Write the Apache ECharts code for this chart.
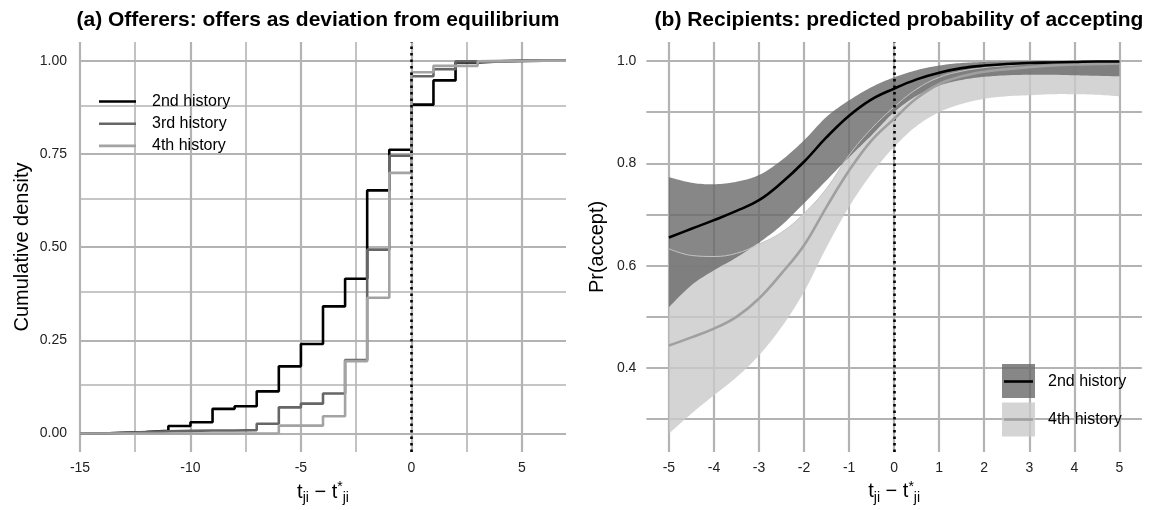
<!DOCTYPE html>
<html><head><meta charset="utf-8">
<script src="https://cdn.jsdelivr.net/npm/echarts@6/dist/echarts.min.js"></script>
<style>html,body{margin:0;padding:0;background:#fff}#c{width:1149px;height:510px}</style>
</head><body><div id="c"></div>
<script>
// ---------- Panel (a): empirical CDFs ----------
const ecdfX   = [-15,-14,-13,-12,-11,-10,-9,-8,-7,-6,-5,-4,-3,-2,-1,0,1,2,3,4,5,6,7];
const ecdf2nd = [0,0.002,0.004,0.007,0.02,0.03,0.066,0.073,0.113,0.18,0.24,0.341,0.415,0.652,0.761,0.882,0.947,0.995,0.998,0.999,1,1,1];
const ecdf3rd = [0,0.002,0.004,0.006,0.007,0.008,0.008,0.009,0.026,0.07,0.08,0.107,0.197,0.493,0.745,0.958,0.977,0.998,0.999,1,1,1,1];
const ecdf4th = [0,0,0,0,0,0,0,0,0,0.021,0.021,0.046,0.194,0.364,0.699,0.969,0.986,0.986,0.998,0.999,1,1,1];
const leftXTicks  = [-15,-10,-5,0,5];
const leftXMinor  = [-12.5,-7.5,-2.5,2.5];
const leftYTicks  = [0,0.25,0.5,0.75,1];
const leftYMinor  = [0.125,0.375,0.625,0.875];

// ---------- Panel (b): predicted probability with bands ----------
const predX   = [-5,-4.5,-4,-3.5,-3,-2.5,-2,-1.5,-1,-0.5,0,0.5,1,1.5,2,2.5,3,3.5,4,4.5,5];
const pred2nd = [0.655,0.672,0.689,0.707,0.728,0.762,0.803,0.851,0.893,0.925,0.946,0.964,0.977,0.986,0.991,0.994,0.996,0.997,0.998,0.999,0.999];
const hi2nd   = [0.773,0.762,0.759,0.764,0.777,0.806,0.845,0.891,0.923,0.949,0.968,0.982,0.991,0.996,0.998,0.999,1,1,1,1,1];
const lo2nd   = [0.519,0.562,0.591,0.616,0.645,0.679,0.722,0.767,0.812,0.855,0.9,0.932,0.952,0.963,0.969,0.972,0.973,0.973,0.972,0.971,0.97];
const pred4th = [0.444,0.46,0.477,0.5,0.536,0.585,0.64,0.715,0.786,0.845,0.887,0.927,0.955,0.97,0.979,0.984,0.988,0.991,0.993,0.994,0.995];
const hi4th   = [0.633,0.62,0.618,0.624,0.642,0.665,0.702,0.751,0.816,0.868,0.91,0.945,0.968,0.98,0.987,0.991,0.994,0.995,0.996,0.996,0.996];
const lo4th   = [0.272,0.311,0.347,0.382,0.425,0.48,0.549,0.636,0.715,0.78,0.832,0.873,0.9,0.916,0.926,0.931,0.933,0.935,0.935,0.934,0.931];
const rightXTicks = [-5,-4,-3,-2,-1,0,1,2,3,4,5];
const rightYTicks = [0.4,0.6,0.8,1.0];
const rightYMinor = [0.3,0.5,0.7,0.9];
const equilibrium = 0;

const FONT = '"Liberation Sans", Arial, Helvetica, sans-serif';
const GRIDC = '#b3b3b3';
const BAND2 = 'rgba(105,105,105,0.8)';
const BAND4 = 'rgba(201,201,201,0.8)';
const pairs = (xs, ys) => xs.map((x, i) => [x, ys[i]]);

function gridSeries(xi, yi, xMaj, xMin, yMaj, yMin, anchor, minorW) {
  const d = [];
  xMaj.forEach(v => d.push({xAxis: v, lineStyle: {width: 2.2}}));
  xMin.forEach(v => d.push({xAxis: v, lineStyle: {width: minorW}}));
  yMaj.forEach(v => d.push({yAxis: v, lineStyle: {width: 2.2}}));
  yMin.forEach(v => d.push({yAxis: v, lineStyle: {width: minorW}}));
  return {
    type: 'line', xAxisIndex: xi, yAxisIndex: yi, data: [anchor], symbol: 'none',
    lineStyle: {opacity: 0}, silent: true, z: 0,
    markLine: {silent: true, symbol: ['none', 'none'], label: {show: false}, z: 0,
      lineStyle: {color: GRIDC, type: 'solid'}, emphasis: {disabled: true}, animation: false, data: d}
  };
}
function dotted(xi, yi, anchor) {
  return {
    type: 'line', xAxisIndex: xi, yAxisIndex: yi, data: [anchor], symbol: 'none',
    lineStyle: {opacity: 0}, silent: true, z: 6,
    markLine: {silent: true, symbol: ['none', 'none'], label: {show: false}, z: 6,
      lineStyle: {color: '#000', type: [2.5, 4], width: 2.6}, emphasis: {disabled: true}, animation: false,
      data: [{xAxis: equilibrium}]}
  };
}
// Catmull-Rom smoothing of pixel points (rendering only)
function catmull(pts, n) {
  const out = [];
  for (let i = 0; i < pts.length - 1; i++) {
    const p0 = pts[Math.max(i - 1, 0)], p1 = pts[i], p2 = pts[i + 1], p3 = pts[Math.min(i + 2, pts.length - 1)];
    for (let k = 0; k < n; k++) {
      const t = k / n, t2 = t * t, t3 = t2 * t;
      const f = (a, b, c, d) => 0.5 * (2 * b + (-a + c) * t + (2 * a - 5 * b + 4 * c - d) * t2 + (-a + 3 * b - 3 * c + d) * t3);
      out.push([f(p0[0], p1[0], p2[0], p3[0]), f(p0[1], p1[1], p2[1], p3[1])]);
    }
  }
  out.push(pts[pts.length - 1]);
  return out;
}
function bandSeries(name, lo, hi, color, z) {
  return {
    name, type: 'custom', coordinateSystem: 'cartesian2d', xAxisIndex: 1, yAxisIndex: 1, z, silent: true,
    data: [[predX[0], lo[0]]],
    renderItem: (params, api) => {
      const up = predX.map((x, i) => api.coord([x, hi[i]]));
      const dn = predX.map((x, i) => api.coord([x, lo[i]])).reverse();
      const pts = catmull(up, 10).concat(catmull(dn, 10));
      return {type: 'polygon', shape: {points: pts}, style: {fill: color, stroke: null}};
    }
  };
}

const xName = '{t|t}{s|ji}{t| − t}{p|*}{s|ji}';
const xNameStyle = {
  fontFamily: FONT, color: '#000',
  rich: {
    t: {fontSize: 20, fontFamily: FONT, color: '#000'},
    s: {fontSize: 14, fontFamily: FONT, color: '#000', padding: [12, 0, 0, 0]},
    p: {fontSize: 14, fontFamily: FONT, color: '#000', padding: [0, 0, 10, 0]}
  }
};
const tickLabel = {fontSize: 14, color: '#222', fontFamily: FONT};

const chart = echarts.init(document.getElementById('c'), null, {renderer: 'canvas'});
chart.setOption({
  animation: false,
  backgroundColor: '#fff',
  title: [
    {text: '(a) Offerers: offers as deviation from equilibrium', left: 313, textAlign: 'center', top: 5,
     textStyle: {fontSize: 21, fontWeight: 'bold', color: '#000', fontFamily: FONT}},
    {text: '(b) Recipients: predicted probability of accepting', left: 894, textAlign: 'center', top: 5,
     textStyle: {fontSize: 21, fontWeight: 'bold', color: '#000', fontFamily: FONT}}
  ],
  legend: {
    data: ['2nd history', '3rd history', '4th history'],
    orient: 'vertical', left: 99, top: 93.5, padding: 0, itemWidth: 37, itemHeight: 14, itemGap: 6.2,
    icon: 'path://M0,0 L37,0 L37,2.6 L0,2.6 Z',
    textStyle: {fontSize: 16, color: '#000', fontFamily: FONT, padding: [0, 0, 0, 11]},
    selectedMode: false
  },
  grid: [
    {left: 80, top: 42, width: 486, height: 411},
    {left: 646.4, top: 42, width: 495.5, height: 410}
  ],
  xAxis: [
    {type: 'value', gridIndex: 0, min: -15, max: 7,
     axisLine: {show: false}, axisTick: {show: false}, splitLine: {show: false},
     axisLabel: Object.assign({customValues: leftXTicks, margin: 9}, tickLabel),
     name: xName, nameLocation: 'middle', nameGap: 24, nameTextStyle: xNameStyle},
    {type: 'value', gridIndex: 1, min: -5.5, max: 5.5,
     axisLine: {show: false}, axisTick: {show: false}, splitLine: {show: false},
     axisLabel: Object.assign({customValues: rightXTicks, margin: 9}, tickLabel),
     name: xName, nameLocation: 'middle', nameGap: 24, nameTextStyle: xNameStyle}
  ],
  yAxis: [
    {type: 'value', gridIndex: 0, min: -0.05, max: 1.05,
     axisLine: {show: false}, axisTick: {show: false}, splitLine: {show: false},
     axisLabel: Object.assign({customValues: leftYTicks, margin: 13, formatter: v => v.toFixed(2)}, tickLabel),
     name: 'Cumulative density', nameLocation: 'middle', nameGap: 48, nameRotate: 90,
     nameTextStyle: {fontSize: 20, color: '#000', fontFamily: FONT}},
    {type: 'value', gridIndex: 1, min: 0.236, max: 1.037,
     axisLine: {show: false}, axisTick: {show: false}, splitLine: {show: false},
     axisLabel: Object.assign({customValues: rightYTicks, margin: 10, formatter: v => v.toFixed(1)}, tickLabel),
     name: 'Pr(accept)', nameLocation: 'middle', nameGap: 39, nameRotate: 90,
     nameTextStyle: {fontSize: 20, color: '#000', fontFamily: FONT}}
  ],
  series: [
    // left panel
    gridSeries(0, 0, leftXTicks, leftXMinor, leftYTicks, leftYMinor, [-15, 0], 1.6),
    {name: '2nd history', type: 'line', xAxisIndex: 0, yAxisIndex: 0, step: 'end', symbol: 'none', z: 3,
     data: pairs(ecdfX, ecdf2nd), lineStyle: {color: '#000', width: 2.6}, itemStyle: {color: '#000'}},
    {name: '3rd history', type: 'line', xAxisIndex: 0, yAxisIndex: 0, step: 'end', symbol: 'none', z: 4,
     data: pairs(ecdfX, ecdf3rd), lineStyle: {color: '#666666', width: 2.6}, itemStyle: {color: '#666666'}},
    {name: '4th history', type: 'line', xAxisIndex: 0, yAxisIndex: 0, step: 'end', symbol: 'none', z: 5,
     data: pairs(ecdfX, ecdf4th), lineStyle: {color: '#a3a3a3', width: 2.6}, itemStyle: {color: '#a3a3a3'}},
    dotted(0, 0, [-15, 0]),
    // right panel
    gridSeries(1, 1, rightXTicks, [], rightYTicks, rightYMinor, [-5, 0.5], 2.2),
    bandSeries('band 4th', lo4th, hi4th, BAND4, 1),
    bandSeries('band 2nd', lo2nd, hi2nd, BAND2, 2),
    {name: 'band4 edge', type: 'line', xAxisIndex: 1, yAxisIndex: 1, symbol: 'none', smooth: 0.4, z: 3,
     data: pairs(predX, hi4th), lineStyle: {color: '#c4c4c4', width: 1}},
    dotted(1, 1, [-5, 0.5]),
    {name: 'pred 4th', type: 'line', xAxisIndex: 1, yAxisIndex: 1, symbol: 'none', smooth: 0.4, z: 7,
     data: pairs(predX, pred4th), lineStyle: {color: '#a0a0a0', width: 2.6}},
    {name: 'pred 2nd', type: 'line', xAxisIndex: 1, yAxisIndex: 1, symbol: 'none', smooth: 0.4, z: 8,
     data: pairs(predX, pred2nd), lineStyle: {color: '#000', width: 2.6}}
  ],
  graphic: [
    {type: 'rect', shape: {x: 1002, y: 364, width: 33, height: 34}, style: {fill: BAND2}, z: 20},
    {type: 'line', shape: {x1: 1004, y1: 381.5, x2: 1033, y2: 381.5}, style: {stroke: '#000', lineWidth: 2.6}, z: 21},
    {type: 'rect', shape: {x: 1002, y: 402.5, width: 33, height: 34}, style: {fill: BAND4}, z: 20},
    {type: 'line', shape: {x1: 1004, y1: 419.5, x2: 1033, y2: 419.5}, style: {stroke: '#a0a0a0', lineWidth: 2.6}, z: 21},
    {type: 'text', x: 1048, y: 381.5, style: {text: '2nd history', fontSize: 16, fontFamily: FONT, fill: '#000', verticalAlign: 'middle'}, z: 21},
    {type: 'text', x: 1048, y: 419.5, style: {text: '4th history', fontSize: 16, fontFamily: FONT, fill: '#000', verticalAlign: 'middle'}, z: 21}
  ]
});
</script>
</body></html>
